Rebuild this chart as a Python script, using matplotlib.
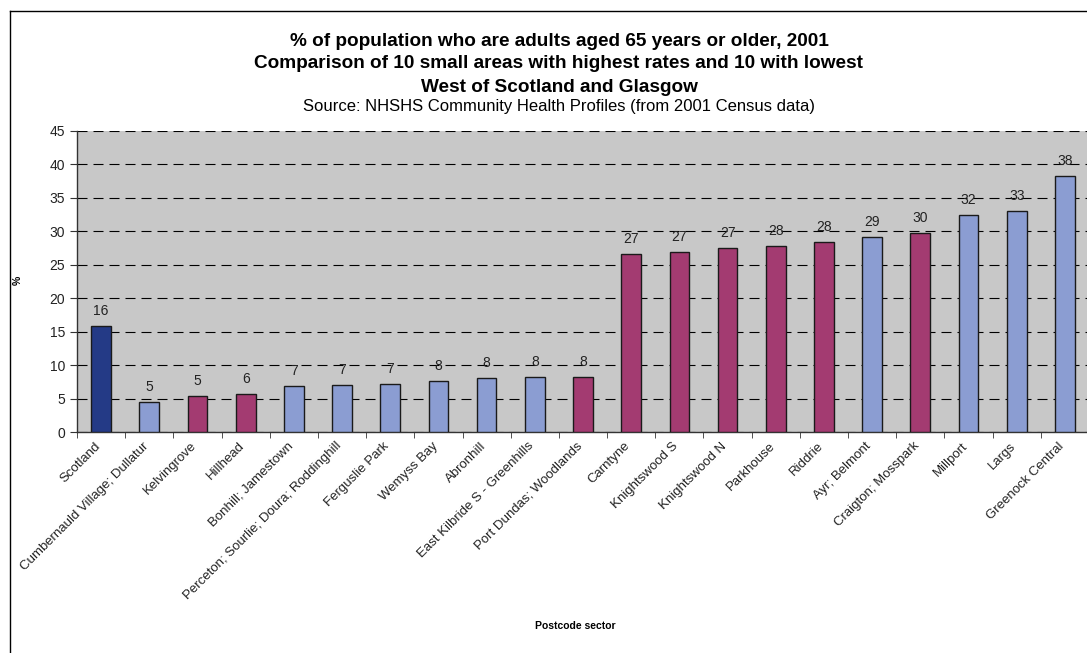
import matplotlib
matplotlib.use("Agg")
import matplotlib.pyplot as plt
import matplotlib.transforms as mtransforms
from matplotlib.lines import Line2D
import numpy as np

plt.rcParams['font.family'] = ['Liberation Sans', 'DejaVu Sans']

# ================================================================================
# data
areas = ["Scotland", "Cumbernauld Village; Dullatur", "Kelvingrove", "Hillhead",
         "Bonhill; Jamestown", "Perceton; Sourlie; Doura; Roddinghill",
         "Ferguslie Park", "Wemyss Bay", "Abronhill", "East Kilbride S - Greenhills",
         "Port Dundas; Woodlands", "Carntyne", "Knightswood S", "Knightswood N",
         "Parkhouse", "Riddrie", "Ayr; Belmont", "Craigton; Mosspark", "Millport",
         "Largs", "Greenock Central"]
pct_65plus = [15.9, 4.55, 5.45, 5.75, 6.95, 7.0, 7.25, 7.65, 8.05, 8.15, 8.25,
              26.6, 26.95, 27.45, 27.85, 28.45, 29.2, 29.75, 32.45, 33.0, 38.2]
# group: 0 = Scotland, 1 = west of Scotland, 2 = Glasgow
group = [0, 1, 2, 2, 1, 1, 1, 1, 1, 1, 2, 2, 2, 2, 2, 2, 1, 2, 1, 1, 1]

group_colors = {0: "#243a86", 1: "#8b9dd2", 2: "#a33b71"}

# ================================================================================
W, H = 1087, 653
fig = plt.figure(figsize=(W / 100, H / 100), dpi=100)

left, right, top, bottom = 77, 1089, 131, 432
ax = fig.add_axes([left / W, 1 - bottom / H, (right - left) / W, (bottom - top) / H])
ax.set_facecolor("#c8c8c8")

x = np.arange(len(areas))
bar_cols = [group_colors[g] for g in group]
bars = ax.bar(x, pct_65plus, width=0.41, color=bar_cols, edgecolor="#1a1a1a",
              linewidth=1.0, zorder=3)

for xi, v in zip(x, pct_65plus):
  ax.annotate("%.0f" % v, (xi, v), xytext=(0, 10.8), textcoords="offset points",
              ha="center", va="center", fontsize=10, color="#222222", zorder=4)

ax.set_xlim(-0.5, len(areas) - 0.5)
ax.set_ylim(0, 45)
ax.set_yticks(range(0, 46, 5))
ax.yaxis.grid(True, color="black", linestyle=(0, (9, 5.4)), linewidth=0.8, zorder=1)
ax.set_axisbelow(True)

# category labels: rotated text under each bar
ax.set_xticks(x)
ax.set_xticklabels([])
lab_trans = ax.get_xaxis_transform() + mtransforms.ScaledTranslation(
  -7 / 100, -8 / 100, fig.dpi_scale_trans)
for xi, name in zip(x, areas):
  ax.text(xi, 0, name, transform=lab_trans, rotation=45, ha="right", va="top",
          rotation_mode="anchor", fontsize=9.5, color="#222222")

ax.set_xticks(np.arange(-0.5, len(areas), 1), minor=True)
ax.tick_params(axis="x", which="major", length=0)
ax.tick_params(axis="x", which="minor", length=4, color="#333333", direction="out")
ax.tick_params(axis="y", length=5, color="#333333", labelsize=10, labelcolor="#222222")

for s in ["top", "right"]:
  ax.spines[s].set_visible(False)
for s in ["left", "bottom"]:
  ax.spines[s].set_color("#333333")
  ax.spines[s].set_linewidth(1.0)

# ================================================================================
# titles and axis labels placed in figure pixels
cx = 559 / W
fig.text(cx, 1 - 42 / H, "% of population who are adults aged 65 years or older, 2001",
         ha="center", va="center", fontsize=13.7, fontweight="bold")
fig.text(cx, 1 - 64 / H, "Comparison of 10 small areas with highest rates and 10 with lowest",
         ha="center", va="center", fontsize=13.7, fontweight="bold")
fig.text(cx, 1 - 87 / H, "West of Scotland and Glasgow",
         ha="center", va="center", fontsize=13.7, fontweight="bold")
fig.text(cx, 1 - 107 / H, "Source: NHSHS Community Health Profiles (from 2001 Census data)",
         ha="center", va="center", fontsize=12)

fig.text(575 / W, 1 - 626 / H, "Postcode sector", ha="center", va="center",
         fontsize=7.5, fontweight="bold")
fig.text(18 / W, 1 - 280 / H, "%", ha="center", va="center", rotation=90,
         fontsize=7.5, fontweight="bold")

# chart frame (cut off on right and bottom)
fig.add_artist(Line2D([9.5 / W, 9.5 / W], [1 - 11 / H, 0], color="black", linewidth=1.0))
fig.add_artist(Line2D([9.5 / W, 1], [1 - 11 / H, 1 - 11 / H], color="black", linewidth=1.0))

fig.savefig("out.png", dpi=100)
